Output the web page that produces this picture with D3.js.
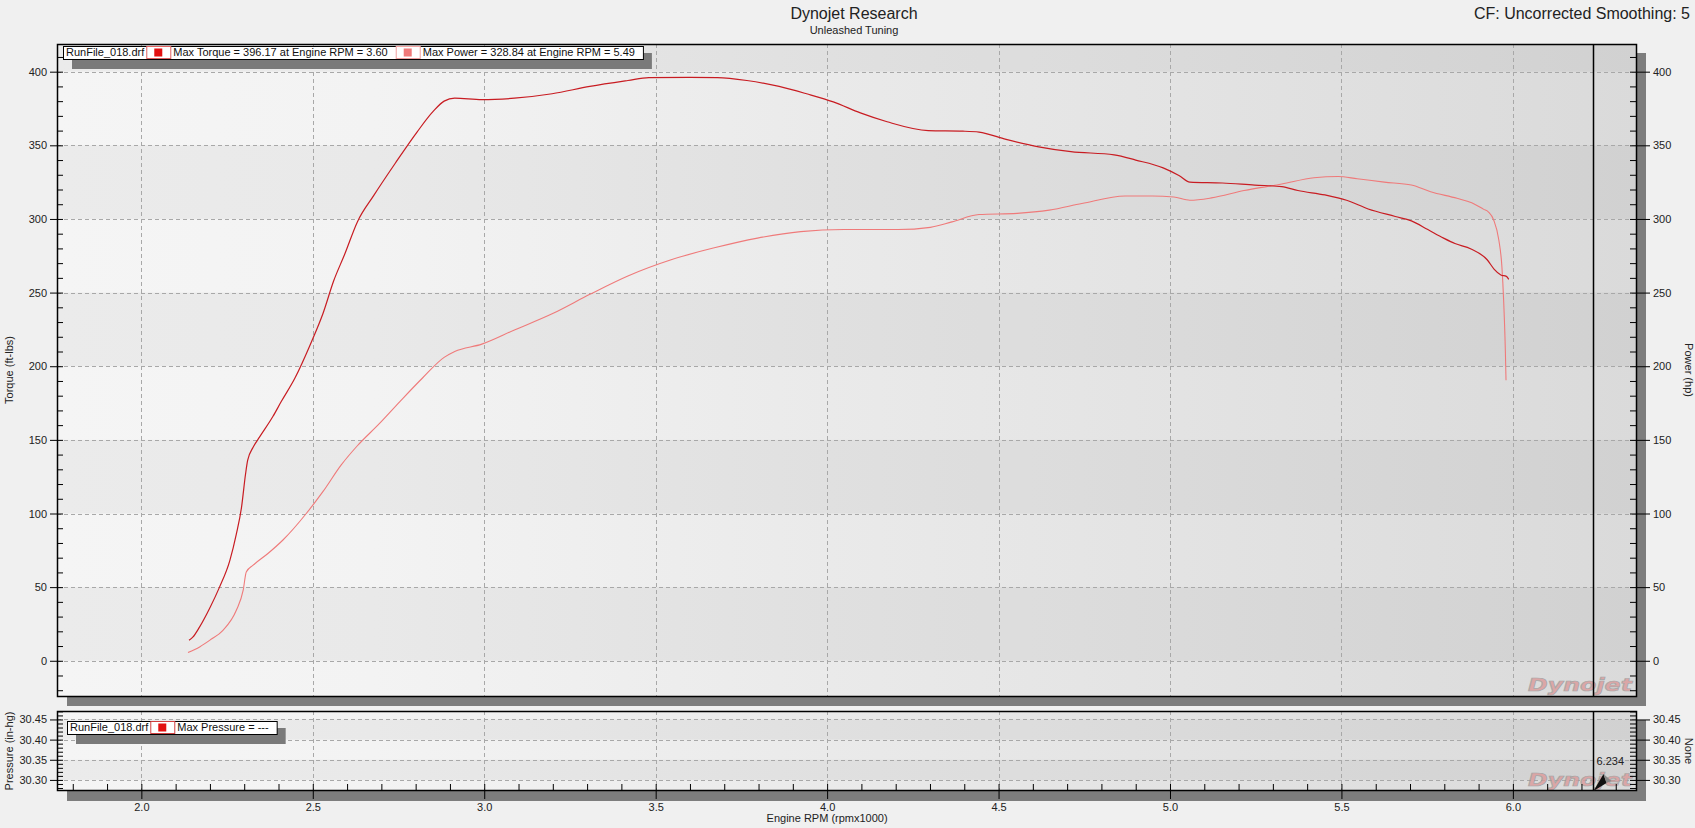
<!DOCTYPE html>
<html lang="en">
<head>
<meta charset="utf-8">
<title>Dynojet Research</title>
<script src="https://d3js.org/d3.v7.min.js"></script>
<style>
  body { margin: 0; background: #f0f0f0; }
  svg { display: block; font-family: "Liberation Sans", Arial, sans-serif; }
</style>
</head>
<body>
<div id="chart"></div>
<script>
// torque curve (ft-lbs) vs engine rpm x1000
const torqueRpm = [2.139, 2.150, 2.170, 2.200, 2.228, 2.258, 2.277, 2.292, 2.304, 2.310, 2.326, 2.345, 2.384, 2.408,
  2.448, 2.495, 2.530, 2.561, 2.593, 2.630, 2.678, 2.741, 2.804, 2.851, 2.883, 2.914, 2.993, 3.088, 3.198, 3.308,
  3.419, 3.480, 3.600, 3.680, 3.766, 3.860, 3.940, 4.018, 4.097, 4.175, 4.295, 4.396, 4.443, 4.522, 4.617, 4.711,
  4.837, 4.900, 4.980, 5.026, 5.058, 5.153, 5.247, 5.326, 5.373, 5.452, 5.515, 5.578, 5.657, 5.704, 5.752, 5.798,
  5.831, 5.878, 5.925, 5.945, 5.965, 5.981, 5.988];
const torqueVal = [13.9, 16, 23, 36, 50, 68, 86, 104, 127, 136, 145, 152, 166, 176,
  192, 216, 236, 258, 276, 298, 316, 338, 359, 373, 380, 382, 381, 382, 385, 390,
  394, 396, 396.2, 396, 394, 390, 385, 379.5, 372, 366, 360, 359.6, 359, 354, 349, 345.7,
  343.5, 340, 334.7, 329.5, 325, 324.4, 323, 322, 319.3, 316.3, 312.7, 306.8, 301.7, 298.7, 292.8, 287,
  283.3, 279.6, 272.3, 266, 262, 261, 259];

// power curve (hp)
const powerRpm = [2.136, 2.170, 2.200, 2.238, 2.277, 2.297, 2.306, 2.326, 2.370, 2.413, 2.481, 2.530, 2.583, 2.630,
  2.694, 2.754, 2.820, 2.883, 2.914, 2.993, 3.088, 3.198, 3.308, 3.419, 3.545, 3.671, 3.797, 3.923, 4.049, 4.207,
  4.301, 4.364, 4.443, 4.554, 4.648, 4.743, 4.869, 4.948, 5.011, 5.058, 5.121, 5.216, 5.326, 5.420, 5.490, 5.546,
  5.625, 5.704, 5.760, 5.837, 5.880, 5.915, 5.929, 5.944, 5.959, 5.968, 5.973, 5.978, 5.980];
const powerVal = [5.6, 9.4, 14, 20.7, 34.3, 47.9, 60.3, 64.9, 73, 82, 100, 115, 133, 146,
  161, 176, 192, 206, 210, 215, 224.6, 235.6, 248.8, 261.3, 272.3, 280.4, 287, 291.4, 292.8, 292.8,
  294.3, 298, 303, 303.8, 306, 310.5, 315.6, 315.6, 314.9, 312.7, 314.3, 319.3, 323.7, 328, 328.8, 327.3,
  325, 323, 318.5, 314, 311, 306.5, 304.7, 299.3, 285.7, 267.5, 245, 211, 190.5];

const yTicks = [0, 50, 100, 150, 200, 250, 300, 350, 400];
const xTicks = [2.0, 2.5, 3.0, 3.5, 4.0, 4.5, 5.0, 5.5, 6.0];
const pressureTicks = [30.30, 30.35, 30.40, 30.45];
const cursorRpm = 6.234;

const W = 1695, H = 828;
const L = 57, R = 1637;
const main = {top: 44, bottom: 697};
const pres = {top: 711, bottom: 791};

const svg = d3.select('#chart').append('svg').attr('width', W).attr('height', H);
svg.append('rect').attr('width', W).attr('height', H).attr('fill', '#f0f0f0');

const x = d3.scaleLinear().domain([1.754, 6.362]).range([L, R]);
const y = d3.scaleLinear().domain([-24.6, 418.8]).range([main.bottom, main.top]);
const yp = d3.scaleLinear().domain([30.2725, 30.471]).range([pres.bottom, pres.top]);

const defs = svg.append('defs');
const grad = defs.append('linearGradient').attr('id', 'bg').attr('x1', 0).attr('x2', 1).attr('y1', 0).attr('y2', 0);
grad.append('stop').attr('offset', 0).attr('stop-color', '#f5f5f5');
grad.append('stop').attr('offset', 0.2).attr('stop-color', '#f3f3f3');
grad.append('stop').attr('offset', 1).attr('stop-color', '#dadada');
defs.append('clipPath').attr('id', 'clipMain').append('rect')
  .attr('x', L).attr('y', main.top).attr('width', R - L).attr('height', main.bottom - main.top);
defs.append('clipPath').attr('id', 'clipPres').append('rect')
  .attr('x', L).attr('y', pres.top).attr('width', R - L).attr('height', pres.bottom - pres.top);

// shadows
svg.append('rect').attr('x', 67).attr('y', 53).attr('width', 1646 - 67).attr('height', 706 - 53).attr('fill', '#7d7d7d');
svg.append('rect').attr('x', 67).attr('y', 720).attr('width', 1646 - 67).attr('height', 801 - 720).attr('fill', '#7d7d7d');

function panel(top, bottom, scale, bands, clipId) {
  const g = svg.append('g');
  g.append('rect').attr('x', L).attr('y', top).attr('width', R - L).attr('height', bottom - top).attr('fill', 'url(#bg)');
  g.append('g').attr('clip-path', 'url(#' + clipId + ')')
    .selectAll('rect').data(bands).enter().append('rect')
    .attr('x', L).attr('width', R - L)
    .attr('y', d => scale(d[1])).attr('height', d => scale(d[0]) - scale(d[1]))
    .attr('fill', '#000').attr('opacity', 0.038);
  return g;
}

// darker bands every other 50 units
const mainBands = [[0, 50], [100, 150], [200, 250], [300, 350], [400, 450]];
const presBands = [[30.30, 30.35], [30.40, 30.45]];
panel(main.top, main.bottom, y, mainBands, 'clipMain');
panel(pres.top, pres.bottom, yp, presBands, 'clipPres');

// grid
const grid = svg.append('g').attr('stroke', '#a8a8a8').attr('stroke-dasharray', '4,3').attr('stroke-width', 1);
grid.selectAll('line.gx').data(xTicks).enter().append('line')
  .attr('x1', d => Math.round(x(d)) + 0.5).attr('x2', d => Math.round(x(d)) + 0.5)
  .attr('y1', main.top).attr('y2', main.bottom);
grid.selectAll('line.gxp').data(xTicks).enter().append('line')
  .attr('x1', d => Math.round(x(d)) + 0.5).attr('x2', d => Math.round(x(d)) + 0.5)
  .attr('y1', pres.top).attr('y2', pres.bottom);
grid.selectAll('line.gy').data(yTicks).enter().append('line')
  .attr('x1', L).attr('x2', R)
  .attr('y1', d => Math.round(y(d)) + 0.5).attr('y2', d => Math.round(y(d)) + 0.5);
grid.selectAll('line.gyp').data(pressureTicks).enter().append('line')
  .attr('x1', L).attr('x2', R)
  .attr('y1', d => Math.round(yp(d)) + 0.5).attr('y2', d => Math.round(yp(d)) + 0.5);

// curves
const line = d3.line().x(d => x(d[0])).y(d => y(d[1])).curve(d3.curveMonotoneX);
const curves = svg.append('g').attr('clip-path', 'url(#clipMain)');
curves.append('path').datum(powerRpm.map((r, i) => [r, powerVal[i]]))
  .attr('d', line).attr('fill', 'none').attr('stroke', '#ef7a7a').attr('stroke-width', 1.1);
curves.append('path').datum(torqueRpm.map((r, i) => [r, torqueVal[i]]))
  .attr('d', line).attr('fill', 'none').attr('stroke', '#c81c22').attr('stroke-width', 1.2);

// watermarks
function watermark(baseY) {
  svg.append('text').attr('x', 1528).attr('y', baseY)
    .attr('font-family', '"DejaVu Sans", sans-serif').attr('font-weight', 'bold').attr('font-style', 'italic')
    .attr('font-size', 17).attr('textLength', 104).attr('lengthAdjust', 'spacingAndGlyphs')
    .attr('fill', '#dc9a9a').attr('stroke', '#9a9a9a').attr('stroke-width', 0.7).attr('opacity', 0.8)
    .text('Dynojet');
}
watermark(691);
watermark(786);

// frames
svg.append('rect').attr('x', L + 0.5).attr('y', main.top + 0.5).attr('width', R - L - 1).attr('height', main.bottom - main.top - 1)
  .attr('fill', 'none').attr('stroke', '#000').attr('stroke-width', 1.5);
svg.append('rect').attr('x', L + 0.5).attr('y', pres.top + 0.5).attr('width', R - L - 1).attr('height', pres.bottom - pres.top - 1)
  .attr('fill', 'none').attr('stroke', '#000').attr('stroke-width', 1.5);

// axes
function styleAxis(g) {
  g.select('.domain').remove();
  g.selectAll('text').attr('font-size', 11).attr('fill', '#222')
    .attr('font-family', '"Liberation Sans", Arial, sans-serif');
  g.selectAll('line').attr('stroke', '#000');
}
const minorMain = d3.range(-20, 411, 10).filter(v => v % 50 !== 0);
const minorPres = d3.range(30280, 30471, 10).map(v => v / 1000).filter(v => Math.round(v * 1000) % 50 !== 0);
const minorX = d3.range(18, 64, 1).map(v => v / 10).filter(v => Math.round(v * 10) % 5 !== 0);

// main left
svg.append('g').attr('transform', `translate(${L},0)`)
  .call(d3.axisLeft(y).tickValues(yTicks).tickSize(7).tickPadding(3).tickFormat(d3.format('d')))
  .call(styleAxis).call(g => g.selectAll('line').attr('x1', 6));
svg.append('g').attr('transform', `translate(${L},0)`)
  .call(d3.axisLeft(y).tickValues(minorMain).tickSize(-6).tickFormat(''))
  .call(styleAxis);
// main right
svg.append('g').attr('transform', `translate(${R},0)`)
  .call(d3.axisRight(y).tickValues(yTicks).tickSize(13).tickPadding(3).tickFormat(d3.format('d')))
  .call(styleAxis).call(g => g.selectAll('line').attr('x1', -7));
svg.append('g').attr('transform', `translate(${R},0)`)
  .call(d3.axisRight(y).tickValues(minorMain).tickSize(-7).tickFormat(''))
  .call(styleAxis);
// pressure left
svg.append('g').attr('transform', `translate(${L},0)`)
  .call(d3.axisLeft(yp).tickValues(pressureTicks).tickSize(7).tickPadding(3).tickFormat(d3.format('.2f')))
  .call(styleAxis).call(g => g.selectAll('line').attr('x1', 6));
svg.append('g').attr('transform', `translate(${L},0)`)
  .call(d3.axisLeft(yp).tickValues(minorPres).tickSize(-6).tickFormat(''))
  .call(styleAxis);
// pressure right
svg.append('g').attr('transform', `translate(${R},0)`)
  .call(d3.axisRight(yp).tickValues(pressureTicks).tickSize(13).tickPadding(3).tickFormat(d3.format('.2f')))
  .call(styleAxis).call(g => g.selectAll('line').attr('x1', -7));
svg.append('g').attr('transform', `translate(${R},0)`)
  .call(d3.axisRight(yp).tickValues(minorPres).tickSize(-7).tickFormat(''))
  .call(styleAxis);
// rpm axis at bottom of pressure panel
svg.append('g').attr('transform', `translate(0,${pres.bottom})`)
  .call(d3.axisBottom(x).tickValues(xTicks).tickSize(8).tickPadding(4).tickFormat(d3.format('.1f')))
  .call(styleAxis).call(g => g.selectAll('line').attr('y1', -7));
svg.append('g').attr('transform', `translate(0,${pres.bottom})`)
  .call(d3.axisBottom(x).tickValues(minorX).tickSize(-7).tickFormat(''))
  .call(styleAxis);

// axis titles
svg.append('text').attr('transform', 'translate(13,370) rotate(-90)').attr('text-anchor', 'middle')
  .attr('font-size', 11).attr('fill', '#222').text('Torque (ft-lbs)');
svg.append('text').attr('transform', 'translate(1685,370) rotate(90)').attr('text-anchor', 'middle')
  .attr('font-size', 11).attr('fill', '#222').text('Power (hp)');
svg.append('text').attr('transform', 'translate(13,751) rotate(-90)').attr('text-anchor', 'middle')
  .attr('font-size', 11).attr('fill', '#222').text('Pressure (in-hg)');
svg.append('text').attr('transform', 'translate(1685,751) rotate(90)').attr('text-anchor', 'middle')
  .attr('font-size', 11).attr('fill', '#222').text('None');
svg.append('text').attr('x', x(4.0)).attr('y', 822).attr('text-anchor', 'middle')
  .attr('font-size', 11).attr('fill', '#222').text('Engine RPM (rpmx1000)');

// titles
svg.append('text').attr('x', 854).attr('y', 19).attr('text-anchor', 'middle')
  .attr('font-size', 16).attr('fill', '#222').text('Dynojet Research');
svg.append('text').attr('x', 854).attr('y', 34).attr('text-anchor', 'middle')
  .attr('font-size', 11).attr('fill', '#222').text('Unleashed Tuning');
svg.append('text').attr('x', 1690).attr('y', 19).attr('text-anchor', 'end')
  .attr('font-size', 16).attr('fill', '#222').text('CF: Uncorrected Smoothing: 5');

// cursor
const cx = Math.round(x(cursorRpm)) + 0.5;
svg.append('line').attr('x1', cx).attr('x2', cx).attr('y1', main.top).attr('y2', main.bottom).attr('stroke', '#000').attr('stroke-width', 1.5);
svg.append('line').attr('x1', cx).attr('x2', cx).attr('y1', pres.top).attr('y2', pres.bottom).attr('stroke', '#000').attr('stroke-width', 1.5);
svg.append('text').attr('x', cx + 3).attr('y', 765).attr('font-size', 11).attr('fill', '#222').text(d3.format('.3f')(cursorRpm));
svg.append('path').attr('d', `M${cx},${pres.bottom} L${cx + 10},${pres.bottom - 17} L${cx + 13},${pres.bottom - 8} Z`).attr('fill', '#111');
svg.append('path').attr('d', `M${cx + 10},${pres.bottom - 17} L${cx + 18},${pres.bottom - 10} L${cx + 13},${pres.bottom - 8} Z`).attr('fill', '#888');

// legends
function legend(x0, y0, h, label, items, shadowDx, shadowDy, shadowExtra) {
  const g = svg.append('g');
  const sh = g.append('rect').attr('fill', '#7a7a7a');
  const box = g.append('rect').attr('fill', '#fff').attr('stroke', '#000').attr('stroke-width', 1);
  let cxp = x0 + 3;
  const t = g.append('text').attr('x', cxp).attr('y', y0 + h - 3).attr('font-size', 11).attr('fill', '#111').text(label);
  cxp += t.node().getComputedTextLength() + 2;
  items.forEach(it => {
    g.append('rect').attr('x', cxp + 0.5).attr('y', y0 + 0.5).attr('width', 24).attr('height', h - 1)
      .attr('fill', '#fff').attr('stroke', it.border).attr('stroke-width', 1);
    g.append('rect').attr('x', cxp + 8).attr('y', y0 + (h - 8) / 2).attr('width', 8).attr('height', 8).attr('fill', it.color);
    cxp += 27;
    const tt = g.append('text').attr('x', cxp).attr('y', y0 + h - 3).attr('font-size', 11).attr('fill', '#111').text(it.text);
    cxp += tt.node().getComputedTextLength() + 8;
  });
  const w = cxp - x0;
  box.attr('x', x0 + 0.5).attr('y', y0 + 0.5).attr('width', w).attr('height', h);
  sh.attr('x', x0 + shadowDx).attr('y', y0 + shadowDy).attr('width', w).attr('height', h + shadowExtra);
}
legend(63, 46, 13, 'RunFile_018.drf', [
  {color: '#e21010', border: '#e06060', text: 'Max Torque = 396.17 at Engine RPM = 3.60'},
  {color: '#f07a7a', border: '#f0a0a0', text: 'Max Power = 328.84 at Engine RPM = 5.49'}
], 9, 7, 3);
legend(67, 721, 13, 'RunFile_018.drf', [
  {color: '#e21010', border: '#d04040', text: 'Max Pressure = ---'}
], 9, 7, 3);
</script>
</body>
</html>
